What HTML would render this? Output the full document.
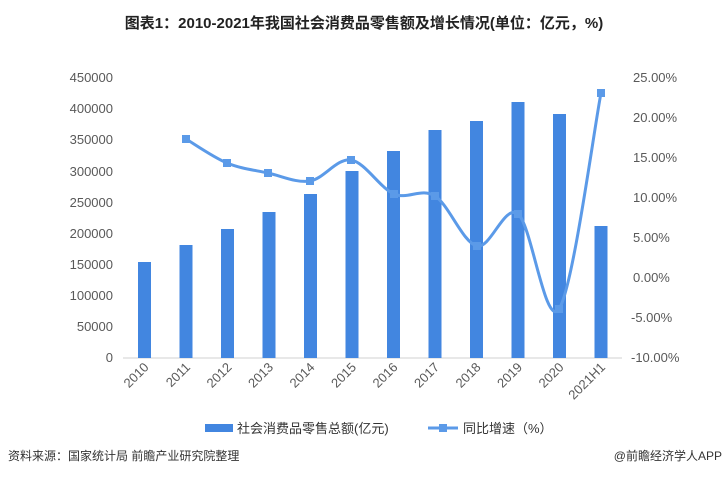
<!DOCTYPE html>
<html><head><meta charset="utf-8"><style>
body{margin:0;background:#fff;width:728px;height:477px;overflow:hidden;font-family:"Liberation Sans","Noto Sans CJK SC",sans-serif}
</style></head><body>
<svg id="s" width="728" height="477" xmlns="http://www.w3.org/2000/svg" font-family="Liberation Sans, Noto Sans CJK SC, sans-serif">
<text x="364" y="28" text-anchor="middle" font-size="15" font-weight="bold" fill="#222">图表1：2010-2021年我国社会消费品零售额及增长情况(单位：亿元，%)</text>
<g fill="#595959" font-size="13" text-anchor="end">
<text x="113" y="82">450000</text><text x="113" y="113">400000</text><text x="113" y="144">350000</text><text x="113" y="176">300000</text><text x="113" y="207">250000</text><text x="113" y="238">200000</text><text x="113" y="269">150000</text><text x="113" y="300">100000</text><text x="113" y="331">50000</text><text x="113" y="362">0</text>
</g>
<g fill="#595959" font-size="13">
<text x="633" y="82">25.00%</text><text x="633" y="122">20.00%</text><text x="633" y="162">15.00%</text><text x="633" y="202">10.00%</text><text x="633" y="242">5.00%</text><text x="633" y="282">0.00%</text><text x="631" y="322">-5.00%</text><text x="631" y="362">-10.00%</text>
</g>
<line x1="123" y1="358" x2="622" y2="358" stroke="#d0d0d0" stroke-width="1"/>
<g id="bars" fill="#4286e0"></g>
<g id="xl" fill="#595959" font-size="13"></g>
<path id="ln" fill="none" stroke="#5b9ae8" stroke-width="3"/>
<g id="mk" fill="#5b9ae8"></g>
<rect x="205" y="424" width="28" height="8" fill="#4286e0"/>
<text x="237" y="433" font-size="13" fill="#333">社会消费品零售总额(亿元)</text>
<line x1="428" y1="428" x2="458" y2="428" stroke="#5b9ae8" stroke-width="3"/>
<rect x="439" y="424" width="8" height="8" fill="#5b9ae8"/>
<text x="463" y="433" font-size="13" fill="#333">同比增速（%）</text>
<text x="8" y="460" font-size="12" fill="#333">资料来源：国家统计局 前瞻产业研究院整理</text>
<text x="722" y="460" font-size="12" fill="#333" text-anchor="end">@前瞻经济学人APP</text>
</svg>
<script>
var ns="http://www.w3.org/2000/svg";
var tops=[262,245,229,212,194,171,151,130,121,102,114,226];
var lab=["2010","2011","2012","2013","2014","2015","2016","2017","2018","2019","2020","2021H1"];
var b=document.getElementById("bars"),xl=document.getElementById("xl");
for(var i=0;i<12;i++){var c=144.5+41.5*i;var r=document.createElementNS(ns,"rect");
r.setAttribute("x",c-6.5);r.setAttribute("y",tops[i]);r.setAttribute("width",13);r.setAttribute("height",358-tops[i]);b.appendChild(r);
var t=document.createElementNS(ns,"text");t.setAttribute("text-anchor","end");t.setAttribute("transform","translate("+(c+5)+",368) rotate(-45)");t.textContent=lab[i];xl.appendChild(t);}
var p=[[186,139],[227,163],[268,173],[310,181],[351,160],[394,194],[435,196],[477,246],[518,214],[559,309],[601,93]];
var d="M"+p[0];
for(var i=0;i<p.length-1;i++){var p0=p[i-1]||p[i],p1=p[i],p2=p[i+1],p3=p[i+2]||p2;
var c1=[p1[0]+(p2[0]-p0[0])/6,p1[1]+(p2[1]-p0[1])/6],c2=[p2[0]-(p3[0]-p1[0])/6,p2[1]-(p3[1]-p1[1])/6];
d+=" C"+c1+" "+c2+" "+p2;}
document.getElementById("ln").setAttribute("d",d);
var mk=document.getElementById("mk");
p.forEach(function(q){var r=document.createElementNS(ns,"rect");r.setAttribute("x",q[0]-4);r.setAttribute("y",q[1]-4);r.setAttribute("width",8);r.setAttribute("height",8);mk.appendChild(r);});
</script>
</body></html>
